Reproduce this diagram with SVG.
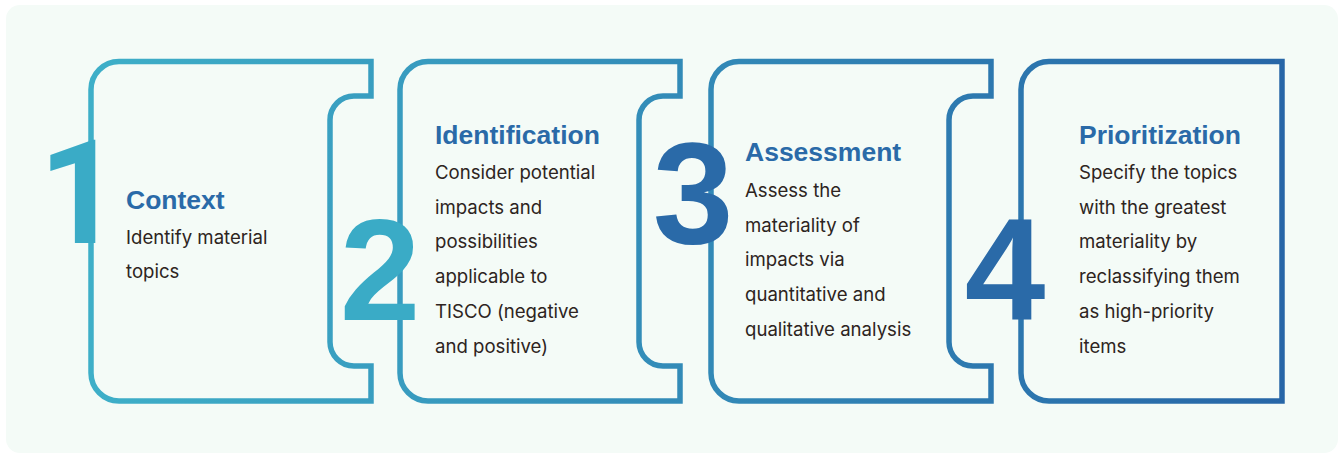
<svg xmlns="http://www.w3.org/2000/svg" width="1338" height="454" viewBox="0 0 1338 454">
  <defs>
    <linearGradient id="strokeGrad" gradientUnits="userSpaceOnUse" x1="88" y1="0" x2="1285" y2="0">
      <stop offset="0" stop-color="#3eafc8"/>
      <stop offset="1" stop-color="#2766a7"/>
    </linearGradient>
  </defs>
  <style>
    .card { fill: none; stroke: url(#strokeGrad); stroke-width: 5.5; stroke-linejoin: miter; }
    .num { font-family: "Liberation Sans", Arial, sans-serif; font-weight: bold; font-size: 145px; text-anchor: middle; }
    .one { font-family: Roboto, "Liberation Sans", sans-serif; }
    .teal { fill: #3aabc6; }
    .blue { fill: #2a6aa8; }
    .title { font-family: "Liberation Sans", Arial, sans-serif; font-weight: bold; font-size: 26.5px; fill: #2a6aa8; }
    .body { font-family: Inter, "Liberation Sans", sans-serif; font-size: 18.6px; fill: #2d2421; }
  </style>
  <rect x="6" y="5" width="1332" height="448" rx="14" fill="#f4fbf7"/>

  <g id="connectors"></g>

  <g id="node1">
    <path class="card" d="M371 96 L371 61.5 L119 61.5 A28 28 0 0 0 91 89.5 L91 373 A28 28 0 0 0 119 401 L371 401 L371 366 L354 366 A24 24 0 0 1 330 342 L330 120 A24 24 0 0 1 354 96 Z"/>
    <text class="num one teal" x="80" y="243">1</text>
    <text class="title" x="126" y="209">Context</text>
    <text class="body" x="126" y="244">Identify material</text>
    <text class="body" x="126" y="278">topics</text>
  </g>

  <g id="node2">
    <path class="card" d="M680 96 L680 61.5 L428 61.5 A28 28 0 0 0 400 89.5 L400 373 A28 28 0 0 0 428 401 L680 401 L680 366 L663 366 A24 24 0 0 1 639 342 L639 120 A24 24 0 0 1 663 96 Z"/>
    <text class="num teal" x="380" y="320">2</text>
    <text class="title" x="435" y="144">Identification</text>
    <text class="body" x="435" y="179">Consider potential</text>
    <text class="body" x="435" y="213.5">impacts and</text>
    <text class="body" x="435" y="248">possibilities</text>
    <text class="body" x="435" y="283">applicable to</text>
    <text class="body" x="435" y="318">TISCO (negative</text>
    <text class="body" x="435" y="353">and positive)</text>
  </g>

  <g id="node3">
    <path class="card" d="M991 96 L991 61.5 L739 61.5 A28 28 0 0 0 711 89.5 L711 373 A28 28 0 0 0 739 401 L991 401 L991 366 L973 366 A24 24 0 0 1 949 342 L949 120 A24 24 0 0 1 973 96 Z"/>
    <text class="num blue" x="693" y="243">3</text>
    <text class="title" x="745" y="161">Assessment</text>
    <text class="body" x="745" y="196.5">Assess the</text>
    <text class="body" x="745" y="231.5">materiality of</text>
    <text class="body" x="745" y="266">impacts via</text>
    <text class="body" x="745" y="300.5">quantitative and</text>
    <text class="body" x="745" y="335.5">qualitative analysis</text>
  </g>

  <g id="node4">
    <path class="card" d="M1282 61.5 L1049 61.5 A28 28 0 0 0 1021 89.5 L1021 373 A28 28 0 0 0 1049 401 L1282 401 Z"/>
    <text class="num blue" x="1005" y="319">4</text>
    <text class="title" x="1079" y="144">Prioritization</text>
    <text class="body" x="1079" y="179">Specify the topics</text>
    <text class="body" x="1079" y="213.5">with the greatest</text>
    <text class="body" x="1079" y="248">materiality by</text>
    <text class="body" x="1079" y="283">reclassifying them</text>
    <text class="body" x="1079" y="318">as high-priority</text>
    <text class="body" x="1079" y="353">items</text>
  </g>
</svg>
